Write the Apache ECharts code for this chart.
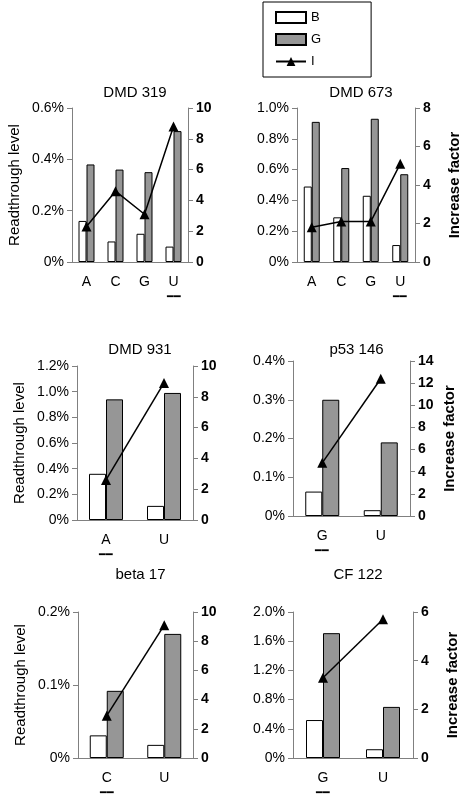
<!DOCTYPE html>
<html><head><meta charset="utf-8">
<script src="https://cdn.jsdelivr.net/npm/echarts@6/dist/echarts.min.js"></script>
<style>html,body{margin:0;background:#fff}#c{width:465px;height:800px}</style>
</head><body><div id="c"></div>
<script>
// data, readthrough in %
var titles = ['DMD 319', 'DMD 673', 'DMD 931', 'p53 146', 'beta 17', 'CF 122'];
var cats = [['A', 'C', 'G', 'U'], ['A', 'C', 'G', 'U'], ['A', 'U'], ['G', 'U'], ['C', 'U'], ['G', 'U']];
var marked = ['U', 'U', 'A', 'G', 'C', 'G'];
var valB = [[0.16, 0.08, 0.11, 0.06], [0.49, 0.29, 0.43, 0.11], [0.36, 0.11], [0.063, 0.015], [0.031, 0.018], [0.52, 0.12]];
var valG = [[0.38, 0.36, 0.35, 0.51], [0.91, 0.61, 0.93, 0.57], [0.94, 0.99], [0.30, 0.19], [0.092, 0.17], [1.71, 0.70]];
var valI = [[2.3, 4.6, 3.1, 8.8], [1.8, 2.1, 2.1, 5.1], [2.6, 8.9], [4.8, 12.4], [2.9, 9.1], [3.3, 5.7]];
var leftMax = [0.6, 1.0, 1.2, 0.4, 0.2, 2.0];
var leftStep = [0.2, 0.2, 0.2, 0.1, 0.1, 0.4];
var rightMax = [10, 8, 10, 14, 10, 6];
var rightStep = [2, 2, 2, 2, 2, 2];

var grids = [
    {left: 72, right: 277, top: 108, height: 154},
    {left: 297, right: 50, top: 108, height: 154},
    {left: 77, right: 272, top: 366, height: 154},
    {left: 293, right: 55, top: 361, height: 155},
    {left: 78, right: 272, top: 612, height: 154},
    {left: 293, right: 52, top: 612, height: 154}
];
var titleTop = [80, 80, 337, 337, 562, 562];
var font = 'Liberation Sans, Arial, sans-serif';
var axisGrey = '#808080';

var option = {
    animation: false,
    textStyle: {fontFamily: font},
    title: [], grid: grids, xAxis: [], yAxis: [], series: [],
    legend: {
        orient: 'vertical', left: 263, top: 2, width: 110,
        padding: [9, 50, 9, 12], itemGap: 9, itemWidth: 30, itemHeight: 11,
        borderColor: '#000', borderWidth: 1,
        textStyle: {fontSize: 13, color: '#000', fontFamily: font},
        data: [
            {name: 'B', icon: 'rect'},
            {name: 'G', icon: 'rect'},
            {name: 'I'}
        ]
    }
};

function pct(v) {
    return v === 0 ? '0%' : v.toFixed(1) + '%';
}

for (var i = 0; i < 6; i++) {
    var g = grids[i];
    var bw = cats[i].length > 2 ? 8 : 17;
    option.title.push({
        text: titles[i], top: titleTop[i], left: g.left + (465 - g.left - g.right) / 2,
        textAlign: 'center',
        textStyle: {fontSize: 15, fontWeight: 'normal', color: '#000', fontFamily: font}
    });
    (function (mk) {
        option.xAxis.push({
            type: 'category', gridIndex: i, data: cats[i],
            axisLine: {lineStyle: {color: axisGrey}},
            axisTick: {lineStyle: {color: axisGrey}, length: 5, interval: 0},
            axisLabel: {
                interval: 0, color: '#000', fontSize: 14, margin: 12, lineHeight: 16,
                formatter: function (v) { return v === mk ? v + '\n{u|━━}' : v; },
                rich: {u: {fontSize: 11, color: '#000', lineHeight: 14}}
            }
        });
    })(marked[i]);
    var showL = i % 2 === 0, showR = i % 2 === 1;
    option.yAxis.push({
        type: 'value', gridIndex: i, min: 0, max: leftMax[i], interval: leftStep[i],
        name: showL ? 'Readthrough level' : '', nameLocation: 'middle', nameGap: 50,
        nameTextStyle: {fontSize: 15, color: '#000'},
        axisLine: {show: true, lineStyle: {color: axisGrey}},
        axisTick: {show: true, lineStyle: {color: axisGrey}, length: 5},
        splitLine: {show: false},
        axisLabel: {color: '#000', fontSize: 14, formatter: pct}
    });
    option.yAxis.push({
        type: 'value', gridIndex: i, position: 'right', min: 0, max: rightMax[i], interval: rightStep[i],
        name: showR ? 'Increase factor' : '', nameLocation: 'middle', nameGap: 32,
        nameTextStyle: {fontSize: 15, color: '#000', fontWeight: 'bold', fontFamily: 'Liberation Sans'},
        axisLine: {show: true, lineStyle: {color: axisGrey}},
        axisTick: {show: true, lineStyle: {color: axisGrey}, length: 5},
        splitLine: {show: false},
        axisLabel: {color: '#000', fontSize: 14, fontWeight: 'bold', fontFamily: 'Liberation Sans', margin: 8}
    });
    option.series.push({
        name: 'B', type: 'bar', xAxisIndex: i, yAxisIndex: 2 * i, data: valB[i],
        barWidth: bw, barGap: '0%',
        itemStyle: {color: '#fff', borderColor: '#000', borderWidth: 1}
    });
    option.series.push({
        name: 'G', type: 'bar', xAxisIndex: i, yAxisIndex: 2 * i, data: valG[i],
        barWidth: bw, barGap: '0%',
        itemStyle: {color: '#969696', borderColor: '#000', borderWidth: 1}
    });
    option.series.push({
        name: 'I', type: 'line', xAxisIndex: i, yAxisIndex: 2 * i + 1, data: valI[i],
        symbol: 'triangle', symbolSize: 10, z: 5,
        lineStyle: {color: '#000', width: 1.5},
        itemStyle: {color: '#000'}
    });
}

var myChart = echarts.init(document.getElementById('c'));
myChart.setOption(option);
</script>
</body></html>
